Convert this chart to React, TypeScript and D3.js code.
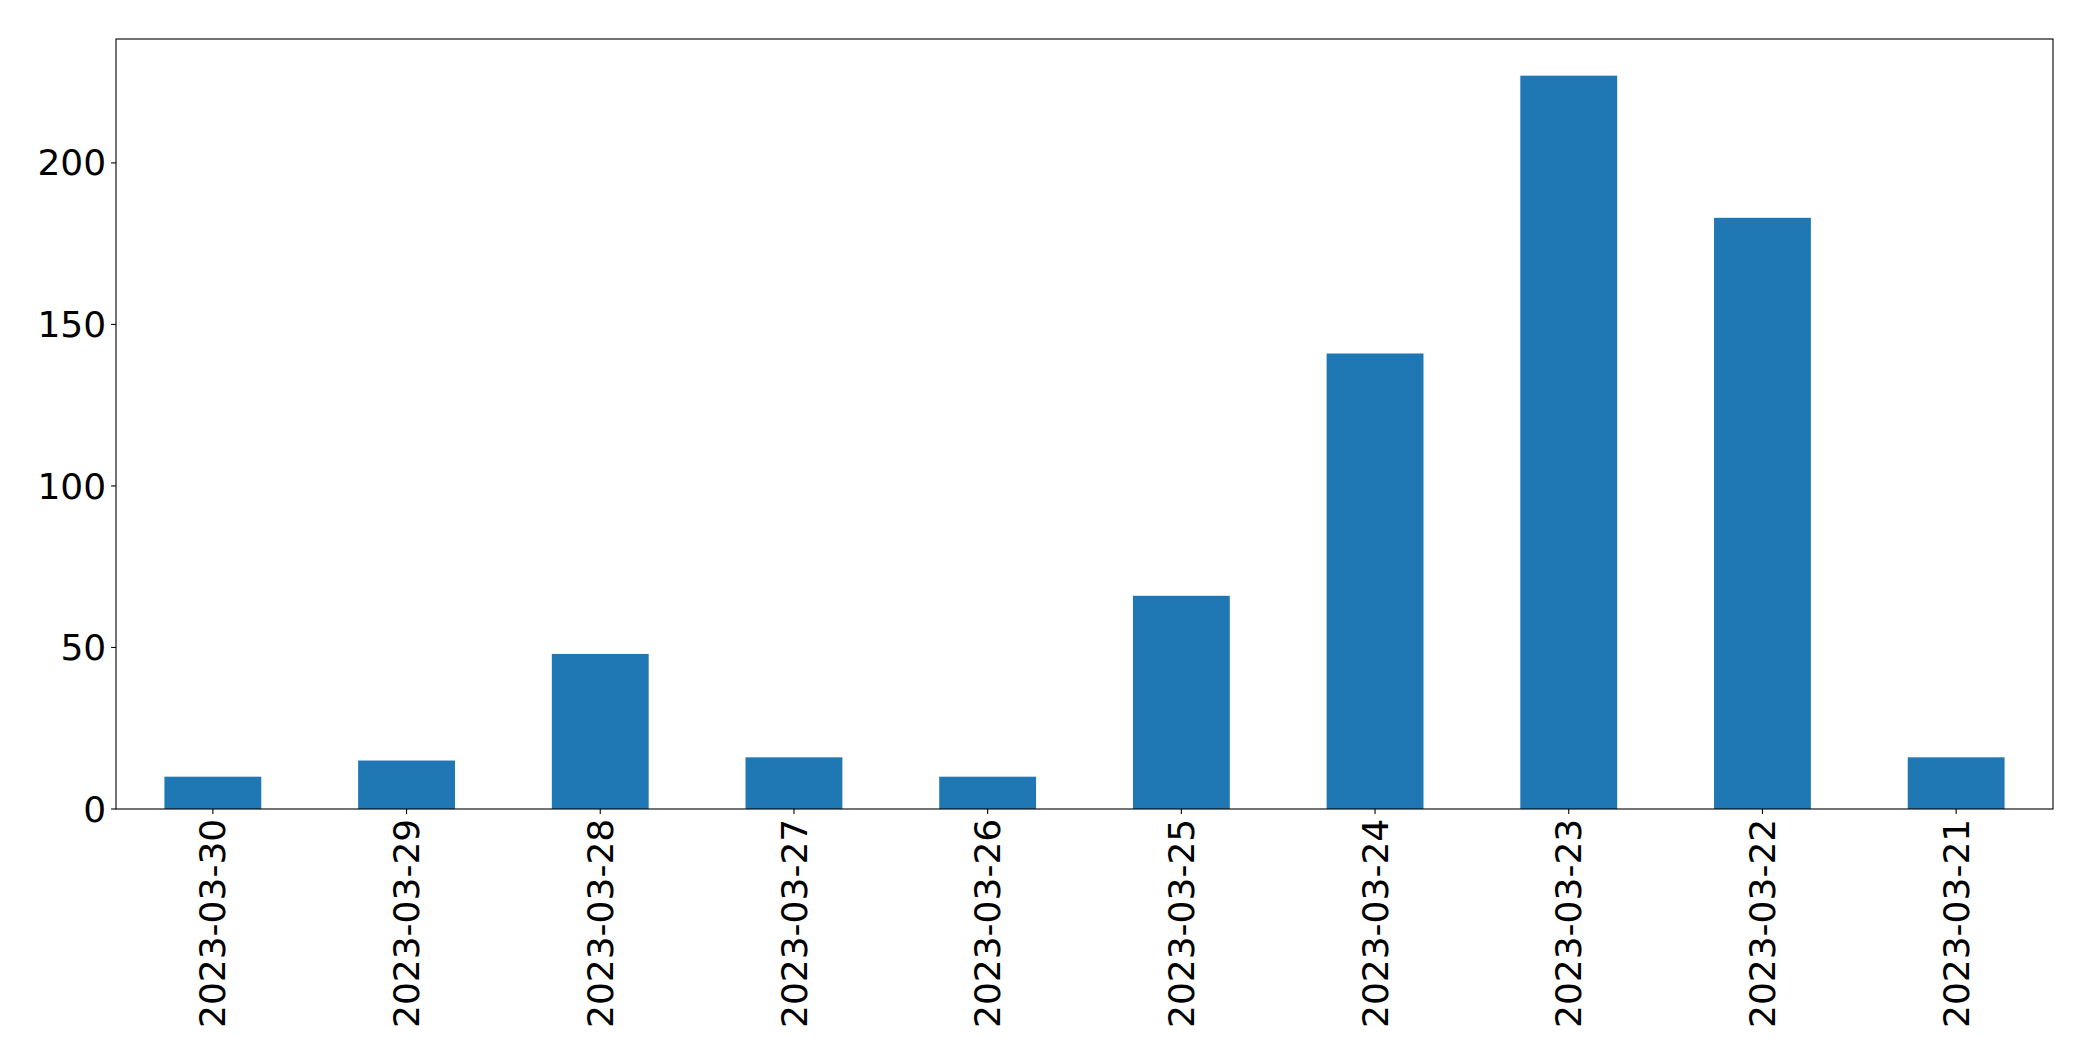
import React from "react";
import * as d3 from "d3";

const categories = [
  "2023-03-30", "2023-03-29", "2023-03-28", "2023-03-27", "2023-03-26",
  "2023-03-25", "2023-03-24", "2023-03-23", "2023-03-22", "2023-03-21",
];
const values = [10, 15, 48, 16, 10, 66, 141, 227, 183, 16];
const yTicks = [0, 50, 100, 150, 200];

const W = 2093;
const H = 1061;
const M = { left: 116, right: 2053, top: 39, bottom: 809 };
const FONT = "'DejaVu Sans', sans-serif";
const FS = 36;

export default function App() {
  const x = d3.scaleLinear().domain([-0.5, categories.length - 0.5]).range([M.left, M.right]);
  const yMax = d3.max(values)! * 1.05;
  const y = d3.scaleLinear().domain([0, yMax]).range([M.bottom, M.top]);
  const barW = 0.5;

  return (
    <svg width={W} height={H} style={{ position: "absolute", left: 0, top: 0, background: "#fff" }}>
      <rect x={0} y={0} width={W} height={H} fill="#fff" />
      {values.map((v, i) => (
        <rect
          key={i}
          x={x(i - barW / 2)}
          y={y(v)}
          width={x(i + barW / 2) - x(i - barW / 2)}
          height={y(0) - y(v)}
          fill="#1f77b4"
        />
      ))}
      <rect
        x={M.left}
        y={M.top}
        width={M.right - M.left}
        height={M.bottom - M.top}
        fill="none"
        stroke="#000"
        strokeWidth={1.1}
      />
      {yTicks.map((t) => (
        <g key={t}>
          <line x1={M.left - 4.9} x2={M.left} y1={y(t)} y2={y(t)} stroke="#000" strokeWidth={1.1} />
          <text
            x={M.left - 9.8}
            y={y(t)}
            dy="0.35em"
            textAnchor="end"
            fontFamily={FONT}
            fontSize={FS}
            fill="#000"
          >
            {t}
          </text>
        </g>
      ))}
      {categories.map((c, i) => (
        <g key={c}>
          <line x1={x(i)} x2={x(i)} y1={M.bottom} y2={M.bottom + 4.9} stroke="#000" strokeWidth={1.1} />
          <text
            transform={`translate(${x(i)},${M.bottom + 9.8}) rotate(-90)`}
            dy="0.35em"
            textAnchor="end"
            fontFamily={FONT}
            fontSize={FS}
            fill="#000"
          >
            {c}
          </text>
        </g>
      ))}
    </svg>
  );
}
